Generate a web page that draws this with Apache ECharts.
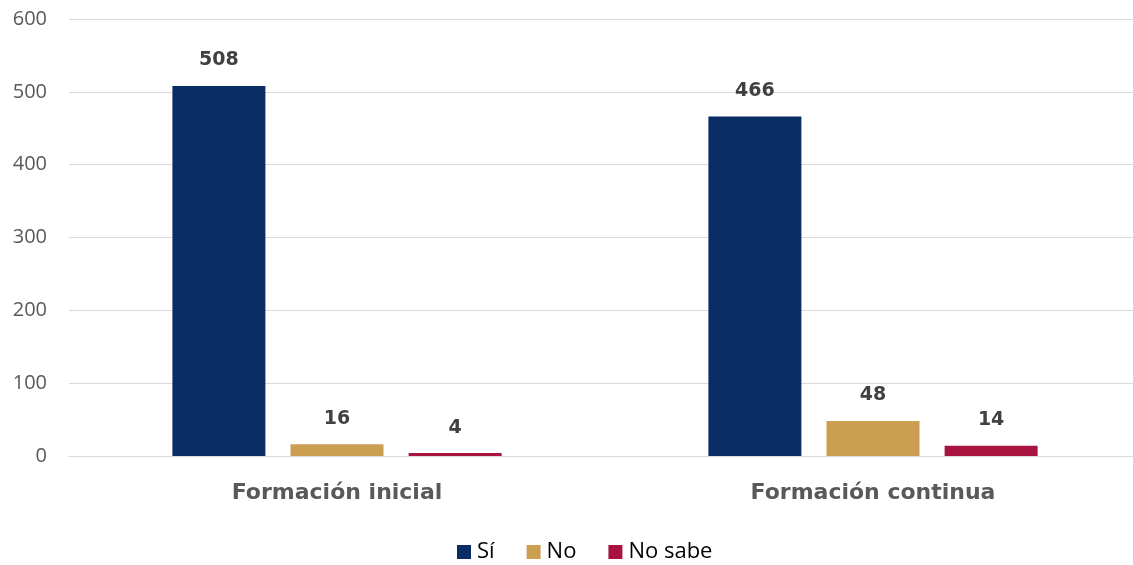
<!DOCTYPE html>
<html>
<head>
<meta charset="utf-8">
<script src="https://cdn.jsdelivr.net/npm/echarts@6/dist/echarts.min.js"></script>
<style>
html, body { margin: 0; padding: 0; background: #fff; overflow: hidden; }
#chart { width: 1141px; height: 565px; }
</style>
</head>
<body>
<div id="chart"></div>
<script>
// datos
var categorias = ['Formación inicial', 'Formación continua'];
var si = [508, 466];
var no = [16, 48];
var noSabe = [4, 14];

var myChart = echarts.init(document.getElementById('chart'));

function serie(nombre, datos, color) {
	return {
		name: nombre,
		type: 'bar',
		data: datos,
		barWidth: 93,
		barGap: '27%',
		itemStyle: { color: color },
		label: {
			show: true,
			position: 'top',
			distance: 16,
			color: '#404040',
			fontFamily: 'DejaVu Sans',
			fontWeight: 'bold',
			fontSize: 19
		}
	};
}

var option = {
	animation: false,
	grid: { left: 69, right: 0, top: 19, bottom: 109 },
	legend: {
		bottom: -3,
		left: 452,
		itemWidth: 14,
		itemHeight: 14,
		itemGap: 32,
		icon: 'rect',
		textStyle: { fontFamily: 'Open Sans', fontSize: 22, color: '#000', padding: [0, 0, 0, 1] },
		data: ['Sí', 'No', 'No sabe']
	},
	xAxis: {
		type: 'category',
		data: categorias,
		axisLine: { lineStyle: { color: '#d9d9d9', width: 1 } },
		axisTick: { show: false },
		axisLabel: {
			margin: 26,
			color: '#595959',
			fontFamily: 'DejaVu Sans',
			fontWeight: 'bold',
			fontSize: 22
		}
	},
	yAxis: {
		type: 'value',
		min: 0,
		max: 600,
		interval: 100,
		axisLine: { show: false },
		axisTick: { show: false },
		splitLine: { lineStyle: { color: '#d9d9d9' } },
		axisLabel: {
			margin: 22,
			color: '#595959',
			fontFamily: 'Open Sans',
			fontSize: 20
		}
	},
	series: [
		serie('Sí', si, '#0b2d65'),
		serie('No', no, '#cc9e52'),
		serie('No sabe', noSabe, '#a8133f')
	]
};

myChart.setOption(option);
</script>
</body>
</html>
